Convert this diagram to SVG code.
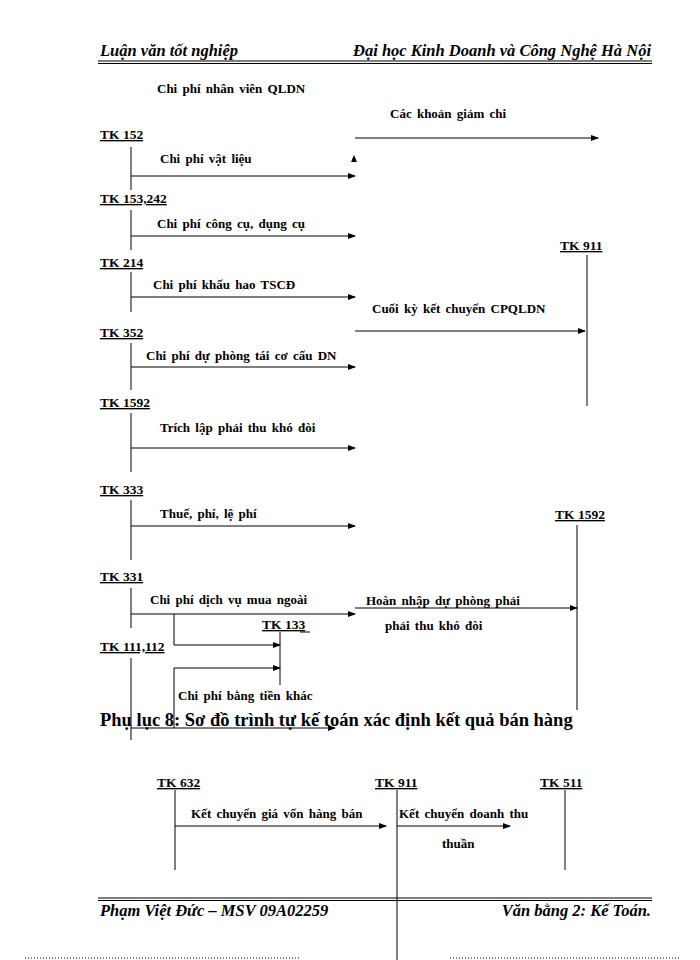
<svg xmlns="http://www.w3.org/2000/svg" width="700" height="960" viewBox="0 0 700 960">
<style>
text{font-family:"Liberation Serif","Times New Roman",serif;fill:#000}
.l{font-size:13px;font-weight:bold;word-spacing:2px}
.tk{font-size:13.5px;text-decoration:underline;font-weight:bold}
.h{font-size:16.5px;font-weight:bold;font-style:italic}
.t{font-size:18.5px;font-weight:bold}
line{stroke:#000;stroke-width:1}
.a{marker-end:url(#ar)}
</style>
<defs><marker id="ar" markerWidth="8" markerHeight="6" refX="7" refY="3" orient="auto" markerUnits="userSpaceOnUse"><path d="M0,0L8,3L0,6z" fill="#000"/></marker></defs>
<rect width="700" height="960" fill="#fff"/>
<g id="header">
<text class="h" x="100" y="56">Luận văn tốt nghiệp</text>
<text class="h" x="651" y="56" text-anchor="end">Đại học Kinh Doanh và Công Nghệ Hà Nội</text>
<line x1="98" y1="61" x2="652" y2="61" stroke-width="1.5"/><line x1="98" y1="63.5" x2="652" y2="63.5"/>
</g>
<g id="nodes">
<text class="tk" x="100" y="139">TK 152</text>
<text class="tk" x="100" y="203">TK 153,242</text>
<text class="tk" x="100" y="267">TK 214</text>
<text class="tk" x="560" y="250">TK 911</text>
<text class="tk" x="100" y="337">TK 352</text>
<text class="tk" x="100" y="407">TK 1592</text>
<text class="tk" x="100" y="494">TK 333</text>
<text class="tk" x="555" y="519">TK 1592</text>
<text class="tk" x="100" y="581">TK 331</text>
<text class="tk" x="262" y="629">TK 133</text>
<line x1="300" y1="632" x2="310" y2="632"/>
<text class="tk" x="100" y="651">TK 111,112</text>
<text class="tk" x="157" y="787">TK 632</text>
<text class="tk" x="375" y="787">TK 911</text>
<text class="tk" x="540" y="787">TK 511</text>
</g>
<g id="labels">
<text class="l" x="157" y="93">Chi phí nhân viên QLDN</text>
<text class="l" x="390" y="118">Các khoản giảm chi</text>
<text class="l" x="160" y="163">Chi phí vật liệu</text>
<text class="l" x="157" y="228">Chi phí công cụ, dụng cụ</text>
<text class="l" x="153" y="289">Chi phí khấu hao TSCĐ</text>
<text class="l" x="372" y="313">Cuối kỳ kết chuyển CPQLDN</text>
<text class="l" x="146" y="360">Chi phí dự phòng tái cơ cấu DN</text>
<text class="l" x="160" y="432">Trích lập phải thu khó đòi</text>
<text class="l" x="160" y="518">Thuế, phí, lệ phí</text>
<text class="l" x="150" y="604">Chi phí dịch vụ mua ngoài</text>
<text class="l" x="366" y="605">Hoàn nhập dự phòng phải</text>
<text class="l" x="385" y="630">phải thu khó đòi</text>
<text class="l" x="178" y="700">Chi phí bằng tiền khác</text>
<text class="l" x="191" y="818">Kết chuyển giá vốn hàng bán</text>
<text class="l" x="399" y="818">Kết chuyển doanh thu</text>
<text class="l" x="442" y="848">thuần</text>
</g>
<g id="connectors">
<line x1="131" y1="147" x2="131" y2="190"/><line class="a" x1="131" y1="176" x2="355" y2="176"/>
<path d="M351,162L354,155L357,162z" fill="#000"/>
<line class="a" x1="355" y1="138" x2="598" y2="138"/>
<line x1="131" y1="210" x2="131" y2="250"/><line class="a" x1="131" y1="236" x2="355" y2="236"/>
<line x1="131" y1="272" x2="131" y2="312"/><line class="a" x1="131" y1="297" x2="355" y2="297"/>
<line x1="587" y1="255" x2="587" y2="406"/><line class="a" x1="355" y1="331" x2="585" y2="331"/>
<line x1="131" y1="343" x2="131" y2="390"/><line class="a" x1="131" y1="367" x2="355" y2="367"/>
<line x1="131" y1="413" x2="131" y2="472"/><line class="a" x1="131" y1="448" x2="355" y2="448"/>
<line x1="131" y1="500" x2="131" y2="560"/><line class="a" x1="131" y1="526" x2="355" y2="526"/>
<line x1="577" y1="525" x2="577" y2="710"/>
<line x1="131" y1="588" x2="131" y2="628"/><line class="a" x1="131" y1="614" x2="355" y2="614"/>
<line class="a" x1="355" y1="608" x2="577" y2="608"/>
<line x1="280" y1="632" x2="280" y2="685"/>
<polyline points="174,614 174,645" fill="none" stroke="#000"/><line class="a" x1="174" y1="645" x2="280" y2="645"/>
<line x1="131" y1="658" x2="131" y2="740"/>
<polyline points="174,728 174,668" fill="none" stroke="#000"/><line class="a" x1="174" y1="668" x2="280" y2="668"/>
<line class="a" x1="131" y1="728" x2="335" y2="728"/>
<line x1="175" y1="790" x2="175" y2="870"/><line x1="397" y1="790" x2="397" y2="960"/><line x1="565" y1="790" x2="565" y2="870"/>
<line class="a" x1="175" y1="826" x2="386" y2="826"/><line class="a" x1="397" y1="826" x2="510" y2="826"/>
</g>
<text class="t" x="100" y="726">Phụ lục 8: Sơ đồ trình  tự kế toán xác định kết quả bán hàng</text>
<g id="footer">
<line x1="98" y1="898" x2="652" y2="898" stroke-width="1.5"/><line x1="98" y1="900.5" x2="652" y2="900.5"/>
<text class="h" x="100" y="916">Phạm Việt Đức – MSV 09A02259</text>
<text class="h" x="651" y="916" text-anchor="end">Văn bằng 2: Kế Toán.</text>
<line x1="25" y1="958" x2="300" y2="958" stroke="#ccc" stroke-dasharray="1,2"/>
<line x1="450" y1="958" x2="680" y2="958" stroke="#ccc" stroke-dasharray="1,2"/>
</g>
</svg>
